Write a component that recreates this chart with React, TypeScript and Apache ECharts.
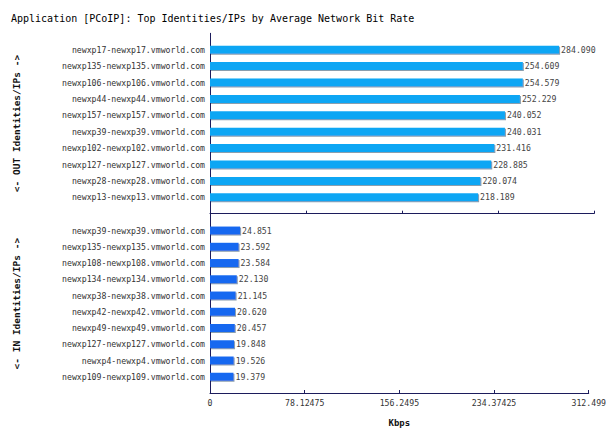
import React, { useEffect, useRef } from "react";
import * as echarts from "echarts";

const outHosts = [
  "newxp17-newxp17.vmworld.com",
  "newxp135-newxp135.vmworld.com",
  "newxp106-newxp106.vmworld.com",
  "newxp44-newxp44.vmworld.com",
  "newxp157-newxp157.vmworld.com",
  "newxp39-newxp39.vmworld.com",
  "newxp102-newxp102.vmworld.com",
  "newxp127-newxp127.vmworld.com",
  "newxp28-newxp28.vmworld.com",
  "newxp13-newxp13.vmworld.com",
];
const outValues = [284.09, 254.609, 254.579, 252.229, 240.052, 240.031, 231.416, 228.885, 220.074, 218.189];

const inHosts = [
  "newxp39-newxp39.vmworld.com",
  "newxp135-newxp135.vmworld.com",
  "newxp108-newxp108.vmworld.com",
  "newxp134-newxp134.vmworld.com",
  "newxp38-newxp38.vmworld.com",
  "newxp42-newxp42.vmworld.com",
  "newxp49-newxp49.vmworld.com",
  "newxp127-newxp127.vmworld.com",
  "newxp4-newxp4.vmworld.com",
  "newxp109-newxp109.vmworld.com",
];
const inValues = [24.851, 23.592, 23.584, 22.13, 21.145, 20.62, 20.457, 19.848, 19.526, 19.379];

const tickLabels = ["0", "78.12475", "156.2495", "234.37425", "312.499"];
const axisMax = 312.499;
const axisInterval = 78.12475;

export default function App() {
  const ref = useRef<HTMLDivElement>(null);
  useEffect(() => {
    document.body.style.margin = "0";
    if (!ref.current) return;
    const chart = echarts.init(ref.current, null, { renderer: "svg" });
    const mono = "DejaVu Sans Mono";
    const axisColor = "#1c1c5c";
    const pad = (arr: string[]) => [" ", ...arr, "  "];
    const padVals = (arr: number[]) => [null, ...arr, null];
    const xAxisBase = (gridIndex: number, showLabels: boolean) => ({
      type: "value",
      gridIndex,
      min: 0,
      max: axisMax,
      interval: axisInterval,
      splitLine: { show: false },
      axisLine: { show: true, lineStyle: { color: axisColor, width: 1 } },
      axisTick: { show: true, inside: true, length: 3, lineStyle: { color: axisColor } },
      axisLabel: {
        show: showLabels,
        color: "#333",
        fontFamily: mono,
        fontSize: 8.2,
        margin: 6,
        hideOverlap: false,
        formatter: (_v: number, i: number) => tickLabels[i] ?? "",
      },
      name: showLabels ? "Kbps" : "",
      nameLocation: "middle",
      nameGap: 25,
      nameTextStyle: { color: "#111", fontFamily: mono, fontSize: 9, fontWeight: "bold" },
    });
    const yAxisBase = (gridIndex: number, data: string[], name: string) => ({
      type: "category",
      gridIndex,
      data,
      inverse: true,
      boundaryGap: false,
      axisLine: { show: true, lineStyle: { color: axisColor, width: 1 } },
      axisTick: { show: false },
      axisLabel: { color: "#333", fontFamily: mono, fontSize: 8.2, margin: 5 },
      splitLine: { show: false },
      name,
      nameLocation: "middle",
      nameRotate: 90,
      nameGap: 189,
      nameTextStyle: { color: "#111", fontFamily: mono, fontSize: 9.5, fontWeight: "bold" },
    });
    const barSeries = (idx: number, values: number[], color: string) => ({
      type: "bar",
      xAxisIndex: idx,
      yAxisIndex: idx,
      data: padVals(values),
      barWidth: 8,
      itemStyle: {
        color,
        shadowColor: "#8a9fae",
        shadowOffsetX: 1,
        shadowOffsetY: 1,
        shadowBlur: 0,
      },
      label: {
        show: true,
        position: "right",
        distance: 2,
        color: "#444",
        fontFamily: mono,
        fontSize: 8.2,
        formatter: (p: any) => (p.value == null ? "" : Number(p.value).toFixed(3)),
      },
    });
    chart.setOption({
      animation: false,
      backgroundColor: "#fff",
      title: {
        text: "Application [PCoIP]: Top Identities/IPs by Average Network Bit Rate",
        left: 6,
        top: 8,
        textStyle: { color: "#000", fontFamily: mono, fontSize: 10, fontWeight: "normal" },
      },
      grid: [
        { left: 210, right: 15, top: 33.3, height: 180.4 },
        { left: 210, right: 15, top: 214.3, height: 180.4 },
      ],
      xAxis: [xAxisBase(0, false), xAxisBase(1, true)],
      yAxis: [
        yAxisBase(0, pad(outHosts), "<- OUT Identities/IPs ->"),
        yAxisBase(1, pad(inHosts), "<- IN Identities/IPs ->"),
      ],
      series: [barSeries(0, outValues, "#0ca6f4"), barSeries(1, inValues, "#1468f0")],
    });
    return () => chart.dispose();
  }, []);
  return <div ref={ref} style={{ width: 609, height: 428 }} />;
}
